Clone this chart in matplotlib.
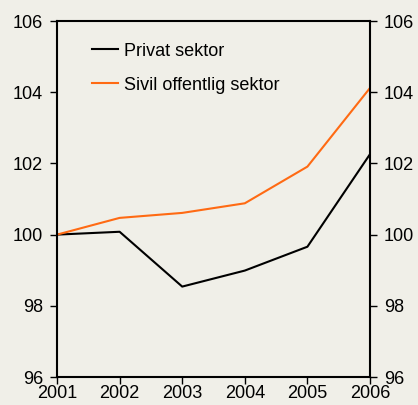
import numpy as np
from matplotlib import pyplot as plt

plt.rcParams['font.family'] = ['Liberation Sans', 'DejaVu Sans']

years = [2001, 2002, 2003, 2004, 2005, 2006]
privat = [100.0, 100.08, 98.54, 98.99, 99.66, 102.26]
sivil = [100.0, 100.47, 100.61, 100.88, 101.91, 104.12]
labels = ['Privat sektor', 'Sivil offentlig sektor']

bg = '#f0efe8'
fig = plt.figure(figsize=(4.18, 4.05), dpi=100, facecolor=bg)
ax = fig.add_axes([0.1364, 0.0691, 0.7488, 0.879], facecolor=bg)

ax.plot(years, privat, color='black', lw=1.5, label=labels[0])
ax.plot(years, sivil, color='#ff6a13', lw=1.5, label=labels[1])

ax.set_xlim(2001, 2006)
ax.set_ylim(96, 106)
ax.set_xticks(years)
ax.set_yticks(np.arange(96, 107, 2))
ax.tick_params(axis='y', direction='out', length=5, width=1, labelsize=13, pad=5,
               right=True, labelright=True)
ax.tick_params(axis='x', direction='out', length=5, width=1, labelsize=13, pad=1)
for s in ax.spines.values():
    s.set_linewidth(1.5)

ax.legend(loc='upper left', bbox_to_anchor=(0.083, 0.965), frameon=False, fontsize=13,
          handlelength=1.45, handletextpad=0.3, labelspacing=0.95, borderpad=0)

fig.savefig('out.png', dpi=100, facecolor=bg)
